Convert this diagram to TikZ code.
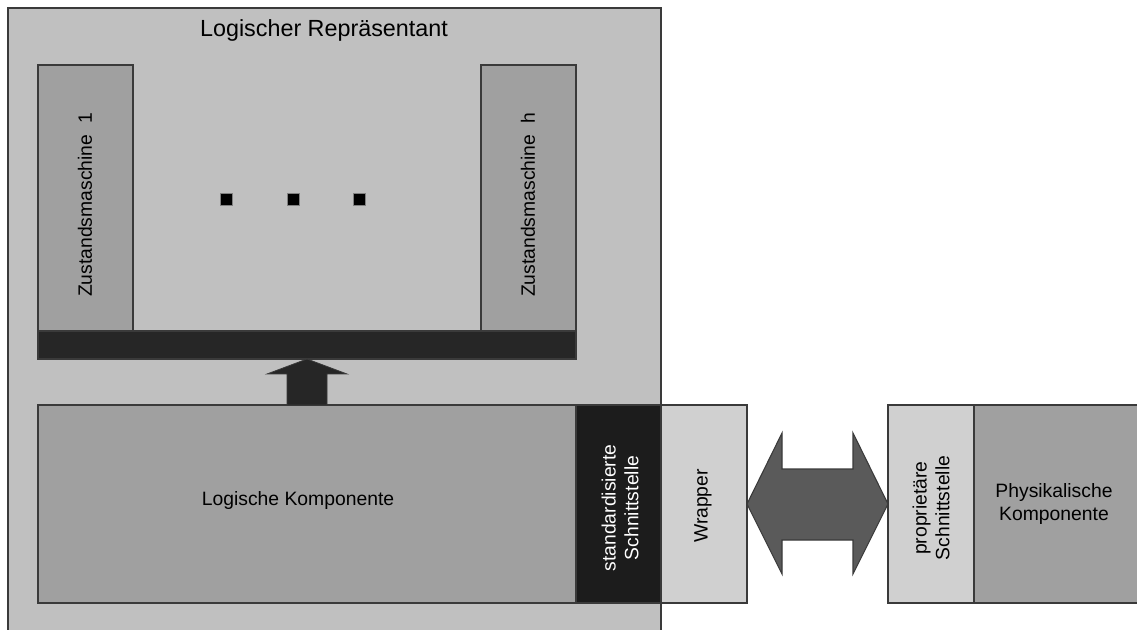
\documentclass[tikz,border=0pt]{standalone}
\usepackage{fontspec}
\setmainfont{Liberation Sans}
\definecolor{edge}{HTML}{3A3A3A}
\definecolor{frame}{HTML}{C0C0C0}
\definecolor{mid}{HTML}{A0A0A0}
\definecolor{light}{HTML}{D0D0D0}
\definecolor{bar}{HTML}{262626}
\definecolor{ifc}{HTML}{1C1C1C}
\definecolor{arr}{HTML}{5A5A5A}
\def\upx{0.75pt}
\begin{document}
\begin{tikzpicture}[x=0.75pt,y=-0.75pt,
  box/.style={draw=edge, line width=0.8pt, inner sep=0pt, outer sep=0pt, rectangle},
  lbl/.style={font=\fontsize{14.5}{17}\selectfont, align=center, inner sep=0pt},
  vlbl/.style={lbl, rotate=90},
  dot/.style={fill=black, draw=gray, line width=0.4pt, minimum size=12*\upx, inner sep=0pt, rectangle},
  bigarrow/.style={draw=edge, line width=0.8pt}
]
\useasboundingbox (0,0) rectangle (1137,630);
\clip (0,0) rectangle (1137,630);

% logical representative frame
\node[box, fill=frame, minimum width=653*\upx, minimum height=640*\upx] (frame) at (334.5,328) {};
\node[lbl, font=\fontsize{17.5}{20}\selectfont] (title) at (324,30) {Logischer Repräsentant};

% state machines
\node[box, fill=mid, minimum width=95*\upx, minimum height=266*\upx] (zm1) at (85.5,198) {};
\node[box, fill=mid, minimum width=95*\upx, minimum height=266*\upx] (zmh) at (528.5,198) {};
\node[vlbl] (zm1t) at (85,205) {Zustandsmaschine\ \ 1};
\node[vlbl] (zmht) at (528,205) {Zustandsmaschine\ \ h};

% ellipsis dots
\node[dot] (d1) at (226.5,199.5) {};
\node[dot] (d2) at (293,199.5) {};
\node[dot] (d3) at (359.5,199.5) {};

% bus bar
\node[box, fill=bar, minimum width=538*\upx, minimum height=28*\upx] (bus) at (307,345) {};

% logical component and its interface
\node[box, fill=mid, minimum width=538*\upx, minimum height=198*\upx] (logk) at (307,504) {};
\node[lbl] (logkt) at (298,500) {Logische Komponente};
\node[box, fill=ifc, minimum width=85*\upx, minimum height=198*\upx] (std) at (618.5,504) {};
\node[vlbl, text=white] (stdt) at (620,508) {standardisierte\\Schnittstelle};

% up arrow from component to bus
\fill[bar, draw=edge, line width=0.6pt]
  (287,405) -- (287,374) -- (267,374) -- (307,359) -- (347,374) -- (327,374) -- (327,405) -- cycle;

% wrapper
\node[box, fill=light, minimum width=86*\upx, minimum height=198*\upx] (wrap) at (704,504) {};
\node[vlbl] (wrapt) at (703,506) {Wrapper};

% physical side
\node[box, fill=light, minimum width=86*\upx, minimum height=198*\upx] (prop) at (931,504) {};
\node[vlbl] (propt) at (931,508) {proprietäre\\Schnittstelle};
\node[box, fill=mid, minimum width=171*\upx, minimum height=198*\upx] (phys) at (1059.5,504) {};
\node[lbl] (physt) at (1054,504) {Physikalische\\Komponente};

% double arrow between wrapper and proprietary interface
\fill[arr, bigarrow]
  (wrap.east) -- (782,433) -- (782,469) -- (853,469) -- (853,433) -- (prop.west)
  -- (853,574) -- (853,540) -- (782,540) -- (782,574) -- cycle;
\end{tikzpicture}
\end{document}
